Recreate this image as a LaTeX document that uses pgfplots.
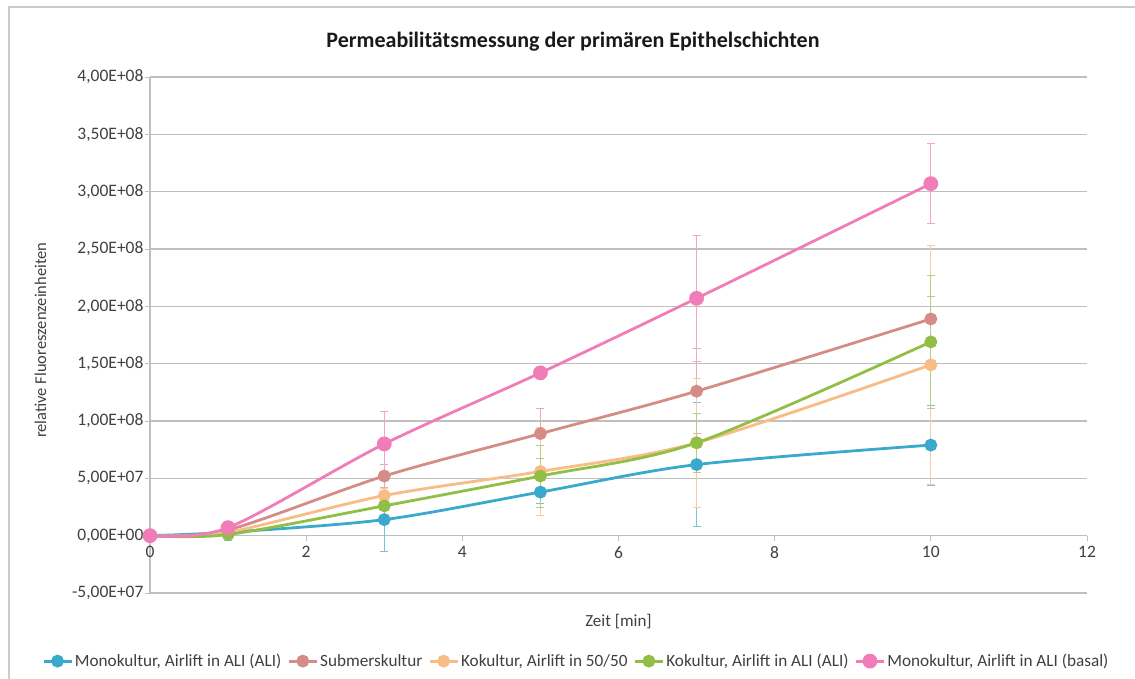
\documentclass[border=0pt]{standalone}
\usepackage{fontspec}
\setmainfont{Carlito}
\usepackage{pgfplots}
\pgfplotsset{compat=1.18}

\definecolor{cMono}{HTML}{3BA9CB}
\definecolor{cSub}{HTML}{D58C87}
\definecolor{cKo50}{HTML}{F9BC87}
\definecolor{cKoALI}{HTML}{91BE44}
\definecolor{cBasal}{HTML}{F07DB8}
\definecolor{gridgray}{HTML}{BFBFBF}
\definecolor{txt}{HTML}{404040}

\begin{document}
\begin{tikzpicture}[x=1pt,y=1pt]
\useasboundingbox (0,0) rectangle (1135,-679);
% chart frame
\draw[gridgray!80, line width=1.2pt] (9,-679) -- (9,-7) -- (1135,-7);
% title
\node[font=\fontsize{22}{26}\selectfont\bfseries, text=black!90] at (573,-42) {Permeabilitätsmessung der primären Epithelschichten};

\begin{axis}[
  at={(150pt,-593pt)}, anchor=south west,
  scale only axis, width=937pt, height=516pt,
  xmin=0, xmax=12, ymin=-5e7, ymax=4e8,
  xtick={0,2,4,6,8,10,12},
  ytick={-5e7,0,5e7,1e8,1.5e8,2e8,2.5e8,3e8,3.5e8,4e8},
  yticklabels={{-5,00E+07},{0,00E+00},{5,00E+07},{1,00E+08},{1,50E+08},{2,00E+08},{2,50E+08},{3,00E+08},{3,50E+08},{4,00E+08}},
  scaled y ticks=false,
  axis x line=middle, axis y line=left,
  hide obscured x ticks=false,
  axis line style={draw=gridgray, line width=1.2pt, -},
  ymajorgrids, grid style={draw=gridgray, line width=1.4pt},
  tick align=outside, major tick length=5pt,
  tick style={draw=gridgray, line width=1pt},
  /pgf/number format/assume math mode=true,
  ticklabel style={font=\fontsize{17.5}{20}\selectfont, text=txt},
  xticklabel style={yshift=-2pt},
  yticklabel style={xshift=2pt},
  xlabel={Zeit [min]},
  xlabel style={at={(axis description cs:0.5,0)}, anchor=north, yshift=-18pt, font=\fontsize{17}{20}\selectfont, text=txt},
  ylabel={relative Fluoreszenzeinheiten},
  ylabel style={at={(axis description cs:-0.117,0.49)}, anchor=center, font=\fontsize{16.5}{20}\selectfont, text=txt},
  clip=false,
  legend columns=5,
  legend style={at={(0.455,-0.132)}, anchor=center, draw=none, fill=none,
    font=\fontsize{17.2}{20}\selectfont, text=txt,
    /tikz/every even column/.append style={column sep=4pt}},
  legend cell align=left,
  legend image code/.code={
    \draw[#1, mark=none] (-2pt,0pt) -- (26pt,0pt);
    \draw[#1, mark size=4pt] plot coordinates {(12pt,0pt)};
  },
  every axis plot/.append style={line width=2.8pt, smooth, mark=*},
]

% Monokultur, Airlift in ALI (ALI)
\addplot[color=cMono, mark options={fill=cMono, draw=cMono, mark size=5pt},
  error bars/.cd, y dir=both, y explicit,
  error bar style={draw=cMono!70, line width=0.8pt},
  error mark options={rotate=90, mark size=4pt, draw=cMono!70, line width=0.8pt}]
  coordinates {
    (0,0) +- (0,0)
    (1,3e6) +- (0,7e6)
    (3,1.4e7) +- (0,2.8e7)
    (5,3.8e7) +- (0,1e7)
    (7,6.2e7) +- (0,5.4e7)
    (10,7.9e7) +- (0,3.5e7)
  };
\addlegendentry{Monokultur, Airlift in ALI (ALI)}

% Submerskultur
\addplot[color=cSub, mark options={fill=cSub, draw=cSub, mark size=5pt},
  error bars/.cd, y dir=both, y explicit,
  error bar style={draw=cSub!70, line width=0.8pt},
  error mark options={rotate=90, mark size=4pt, draw=cSub!70, line width=0.8pt}]
  coordinates {
    (0,0) +- (0,0)
    (1,5e6) +- (0,3e6)
    (3,5.2e7) +- (0,1e7)
    (5,8.9e7) +- (0,2.2e7)
    (7,1.26e8) +- (0,3.7e7)
    (10,1.89e8) +- (0,2e7)
  };
\addlegendentry{Submerskultur}

% Kokultur, Airlift in 50/50
\addplot[color=cKo50, mark options={fill=cKo50, draw=cKo50, mark size=5pt},
  error bars/.cd, y dir=both, y explicit,
  error bar style={draw=cKo50!80, line width=0.8pt},
  error mark options={rotate=90, mark size=4pt, draw=cKo50!80, line width=0.8pt}]
  coordinates {
    (0,0) +- (0,0)
    (1,3e6) +- (0,3e6)
    (3,3.5e7) +- (0,6e6)
    (5,5.6e7) +- (0,3.8e7)
    (7,8.1e7) +- (0,5.6e7)
    (10,1.49e8) +- (0,1.04e8)
  };
\addlegendentry{Kokultur, Airlift in 50/50}

% Kokultur, Airlift in ALI (ALI)
\addplot[color=cKoALI, mark options={fill=cKoALI, draw=cKoALI, mark size=5pt},
  error bars/.cd, y dir=both, y explicit,
  error bar style={draw=cKoALI!70, line width=0.8pt},
  error mark options={rotate=90, mark size=4pt, draw=cKoALI!70, line width=0.8pt}]
  coordinates {
    (0,0) +- (0,0)
    (1,1e6) +- (0,2e6)
    (3,2.6e7) +- (0,1e7)
    (5,5.2e7) +- (0,2.7e7)
    (7,8.1e7) +- (0,2.6e7)
    (10,1.69e8) +- (0,5.8e7)
  };
\addlegendentry{Kokultur, Airlift in ALI (ALI)}

% Monokultur, Airlift in ALI (basal)
\addplot[color=cBasal, mark options={fill=cBasal, draw=cBasal, mark size=6pt},
  error bars/.cd, y dir=both, y explicit,
  error bar style={draw=cBasal!70, line width=0.8pt},
  error mark options={rotate=90, mark size=4pt, draw=cBasal!70, line width=0.8pt}]
  coordinates {
    (0,0) +- (0,0)
    (1,7e6) +- (0,4e6)
    (3,8.0e7) +- (0,2.8e7)
    (5,1.42e8) +- (0,4e6)
    (7,2.07e8) +- (0,5.5e7)
    (10,3.07e8) +- (0,3.5e7)
  };
\addlegendentry{Monokultur, Airlift in ALI (basal)}

\end{axis}
\end{tikzpicture}
\end{document}
